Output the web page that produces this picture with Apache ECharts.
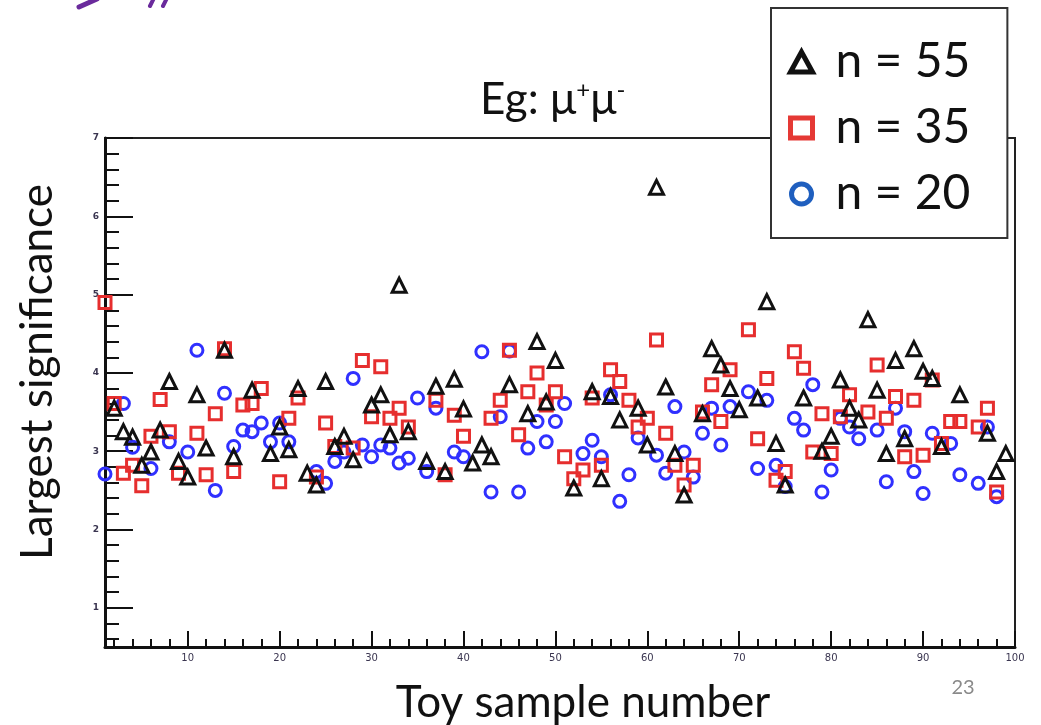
<!DOCTYPE html>
<html><head><meta charset="utf-8">
<script src="https://cdn.jsdelivr.net/npm/echarts@6/dist/echarts.min.js"></script>
<style>html,body{margin:0;padding:0;background:#fff}#c{width:1041px;height:725px}</style>
</head><body><div id="c"></div>
<script>
// Toy sample numbers 1..100
const sampleNumbers = [1,2,3,4,5,6,7,8,9,10,11,12,13,14,15,16,17,18,19,20,21,22,23,24,25,26,27,28,29,30,31,32,33,34,35,36,37,38,39,40,41,42,43,44,45,46,47,48,49,50,51,52,53,54,55,56,57,58,59,60,61,62,63,64,65,66,67,68,69,70,71,72,73,74,75,76,77,78,79,80,81,82,83,84,85,86,87,88,89,90,91,92,93,94,95,96,97,98,99,100];

// Largest significance, n = 55 (black triangles)
const n55 = [null,3.55,3.25,3.18,2.82,2.99,3.27,3.89,2.87,2.67,
  3.72,3.04,null,4.29,2.93,null,3.78,null,2.97,3.31,
  3.02,3.80,2.72,2.57,3.89,3.06,3.19,2.89,null,3.59,
  3.72,3.21,5.12,3.25,null,2.87,3.83,2.74,3.92,3.54,
  2.85,3.08,2.93,null,3.85,null,3.48,4.40,3.63,4.16,
  null,2.53,null,3.76,2.65,3.70,3.40,null,3.55,3.08,
  6.37,3.82,2.97,2.44,null,3.48,4.31,4.10,3.80,3.53,
  null,3.68,4.91,3.10,2.57,null,3.68,null,3.00,3.19,
  3.91,3.55,3.40,4.68,3.78,2.97,4.16,3.16,4.31,4.02,
  3.93,3.06,null,3.72,null,null,3.23,2.74,2.97,null];

// n = 35 (red squares)
const n35 = [4.90,3.61,2.72,2.82,2.56,3.19,3.66,3.25,2.72,null,
  3.23,2.70,3.48,4.31,2.74,3.59,3.61,3.80,null,2.61,
  3.42,3.68,null,2.67,3.36,3.06,null,3.04,4.16,3.44,
  4.08,3.42,3.55,3.31,null,null,3.65,2.70,3.46,3.19,
  null,null,3.42,3.65,4.29,3.21,3.76,4.00,3.59,3.76,
  2.93,2.65,2.76,3.68,2.82,4.04,3.89,3.65,3.31,3.42,
  4.42,3.23,2.82,2.57,2.82,3.50,3.85,3.38,4.04,null,
  4.55,3.16,3.93,2.63,2.74,4.27,4.06,2.99,3.48,2.97,
  3.44,3.72,null,3.50,4.10,3.42,3.70,2.93,3.65,2.95,
  3.91,3.10,3.38,3.38,null,3.31,3.55,2.48,null,null];

// n = 20 (blue circles)
const n20 = [2.71,null,3.61,3.05,null,2.78,null,3.12,null,2.99,
  4.29,null,2.50,3.74,3.06,3.27,3.25,3.36,3.12,3.36,
  3.12,null,null,2.74,2.59,2.87,2.99,3.93,3.08,2.93,
  3.08,3.04,2.85,2.91,3.68,2.74,3.55,null,2.99,2.93,
  null,4.27,2.48,3.44,4.28,2.48,3.04,3.38,3.12,3.38,
  3.61,null,2.97,3.14,2.93,3.72,2.36,2.70,3.17,null,
  2.95,2.72,3.57,2.99,2.67,3.23,3.55,3.08,3.57,null,
  3.76,2.78,3.65,2.82,2.55,3.42,3.27,3.85,2.48,2.76,
  3.42,3.31,3.16,null,3.27,2.61,3.55,3.25,2.74,2.46,
  3.23,null,3.10,2.70,null,2.59,3.31,2.42,null,null];

const xMajorTicks = [10,20,30,40,50,60,70,80,90,100];
const yMajorTicks = [1,2,3,4,5,6,7];
const seriesNames = ['n = 55','n = 35','n = 20'];

const xMinorTicks = []; for (let v = 2; v < 100; v += 2) if (v % 10) xMinorTicks.push(v);
const yMinorTicks = []; for (let k = 3; k < 35; k++) if (k % 5) yMinorTicks.push(+(k*0.2).toFixed(1));

function pts(arr){ const out=[]; arr.forEach((v,i)=>{ if(v!==null) out.push([sampleNumbers[i], v]); }); return out; }

const FONT = 'Lato';
const chart = echarts.init(document.getElementById('c'), null, {renderer:'canvas'});
const axisCommon = { type:'value', splitLine:{show:false}, gridIndex:0 };
chart.setOption({
  backgroundColor:'#fff',
  animation:false,
  title:{
    text:'{a|Eg: μ}{s|+}{a|μ}{s|-}',
    left:475, top:73,
    textStyle:{ fontWeight:'normal', rich:{
      a:{fontSize:44, fontFamily:FONT, fontWeight:'normal', color:'#111'},
      s:{fontSize:24, fontFamily:FONT, fontWeight:'normal', color:'#111', verticalAlign:'top'}
    }}
  },
  grid:{left:105, right:26, top:138, bottom:78, show:true, borderColor:'#222', borderWidth:2, backgroundColor:'transparent'},
  xAxis:[
    Object.assign({}, axisCommon, {min:1, max:100, position:'bottom',
      axisLine:{show:true, lineStyle:{color:'#111', width:3}},
      axisTick:{show:true, inside:true, length:16, customValues:xMajorTicks, lineStyle:{color:'#111', width:2}},
      axisLabel:{show:true, customValues:xMajorTicks, fontSize:10, color:'#3a3550', margin:6, fontFamily:'DejaVu Sans'}}),
    Object.assign({}, axisCommon, {min:1, max:100, position:'bottom',
      axisLine:{show:false},
      axisTick:{show:true, inside:true, length:8, customValues:xMinorTicks, lineStyle:{color:'#111', width:2}},
      axisLabel:{show:false}})
  ],
  yAxis:[
    Object.assign({}, axisCommon, {min:0.5, max:7, position:'left',
      axisLine:{show:true, lineStyle:{color:'#111', width:3}},
      axisTick:{show:true, inside:true, length:28, customValues:yMajorTicks, lineStyle:{color:'#111', width:2}},
      axisLabel:{show:true, customValues:yMajorTicks, fontSize:9, fontWeight:'bold', color:'#3a3550', margin:6, fontFamily:'DejaVu Sans'}}),
    Object.assign({}, axisCommon, {min:0.5, max:7, position:'left',
      axisLine:{show:false},
      axisTick:{show:true, inside:true, length:14, customValues:yMinorTicks, lineStyle:{color:'#111', width:2}},
      axisLabel:{show:false}})
  ],
  legend:{
    orient:'vertical', left:771, top:8,
    backgroundColor:'#fff', borderColor:'#333', borderWidth:2,
    padding:[30,37,20,17], itemGap:18, itemWidth:22, itemHeight:20,
    textStyle:{fontSize:48, fontFamily:FONT, color:'#111', padding:[0,0,0,18]},
    data:[
      {name:seriesNames[0], icon:'triangle', itemStyle:{color:'#fff', borderColor:'#111', borderWidth:5, opacity:1}},
      {name:seriesNames[1], icon:'rect', itemStyle:{color:'#fff', borderColor:'#e53935', borderWidth:5, opacity:1}},
      {name:seriesNames[2], icon:'circle', itemStyle:{color:'#fff', borderColor:'#1f5fbf', borderWidth:5, opacity:1}}
    ]
  },
  series:[
    {name:seriesNames[2], type:'scatter', xAxisIndex:0, yAxisIndex:0, symbol:'circle', symbolSize:12,
     itemStyle:{color:'rgba(255,255,255,0)', borderColor:'#3030ff', borderWidth:3, opacity:1}, data:pts(n20), z:3},
    {name:seriesNames[1], type:'scatter', xAxisIndex:0, yAxisIndex:0, symbol:'rect', symbolSize:12,
     itemStyle:{color:'rgba(255,255,255,0)', borderColor:'#e62e2e', borderWidth:3, opacity:1}, data:pts(n35), z:4},
    {name:seriesNames[0], type:'scatter', xAxisIndex:0, yAxisIndex:0, symbol:'triangle', symbolSize:14,
     itemStyle:{color:'rgba(255,255,255,0)', borderColor:'#111', borderWidth:3, opacity:1}, data:pts(n55), z:5}
  ],
  graphic:[
    {type:'text', x:38, y:372, rotation:Math.PI/2, style:{text:'Largest significance', font:'44px Lato', fill:'#111', align:'center', verticalAlign:'middle'}},
    {type:'text', x:583, y:703, style:{text:'Toy sample number', font:'44px Lato', fill:'#111', align:'center', verticalAlign:'middle'}},
    {type:'text', x:963, y:688, style:{text:'23', font:'20px Lato', fill:'#8a8a8a', align:'center', verticalAlign:'middle'}},
    {type:'line', shape:{x1:79, y1:7, x2:97, y2:-1}, style:{stroke:'#6a2a9c', lineWidth:5, lineCap:'round'}},
    {type:'line', shape:{x1:150, y1:6, x2:154, y2:-2}, style:{stroke:'#6a2a9c', lineWidth:4, lineCap:'round'}},
    {type:'line', shape:{x1:163, y1:6, x2:167, y2:-2}, style:{stroke:'#6a2a9c', lineWidth:4, lineCap:'round'}}
  ]
});
</script></body></html>
